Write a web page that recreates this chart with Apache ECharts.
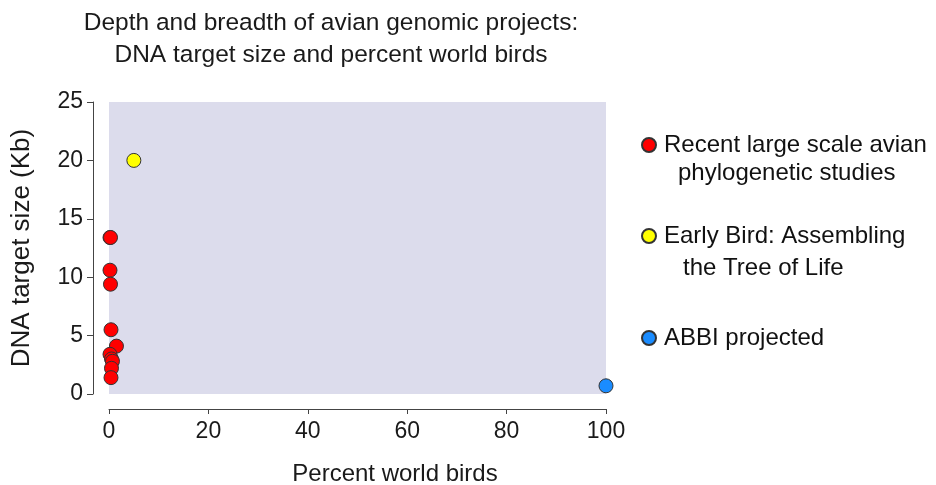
<!DOCTYPE html>
<html>
<head>
<meta charset="utf-8">
<script src="https://cdn.jsdelivr.net/npm/echarts@6/dist/echarts.min.js"></script>
<style>
  html, body { margin: 0; padding: 0; background: #fff; }
  #chart { width: 936px; height: 485px; }
</style>
</head>
<body>
<div id="chart"></div>
<script>
// series names, also shown in the legend
const seriesNames = [
  'Recent large scale avian',
  'Early Bird: Assembling',
  'ABBI projected'
]
// second legend line for each series
const legendSecondLine = ['phylogenetic studies', 'the Tree of Life', '']
const seriesColors = ['#ff0000', '#ffff00', '#1a8cff']

// [percent world birds, DNA target size (Kb)]
const recentStudies = [
  [0.2, 13.4], [0.3, 13.4], [0.2, 10.6], [0.3, 9.4], [0.4, 5.5],
  [1.5, 4.1], [0.2, 3.4], [0.5, 3.0], [0.7, 2.8], [0.5, 2.2], [0.4, 1.4]
]
const earlyBird = [[5, 20]]
const abbiProjected = [[100, 0.7]]

const xTicks = [0, 100, 20] // min, max, interval
const yTicks = [0, 25, 5]

const FONT = 'Liberation Sans, Arial, sans-serif'

const chart = echarts.init(document.getElementById('chart'))

function makeSeries(name, data, color) {
  return {
    name: name,
    type: 'scatter',
    data: data,
    symbol: 'circle',
    symbolSize: 14,
    itemStyle: { color: color, borderColor: '#333', borderWidth: 1, opacity: 1 },
    emphasis: { disabled: true }
  }
}

// one legend block per series so the dot sits on the first line
const legendTops = [131, 222, 324]
const legendSub = [
  { left: 678, top: 159 },
  { left: 683, top: 254 }
]

const option = {
  animation: false,
  textStyle: { fontFamily: FONT },
  title: {
    text: 'Depth and breadth of avian genomic projects:\nDNA target size and percent world birds',
    left: 326,
    top: 2,
    textAlign: 'center',
    textStyle: { fontSize: 24.5, fontWeight: 'normal', color: '#1a1a1a', lineHeight: 32, fontFamily: FONT }
  },
  legend: seriesNames.map((name, i) => ({
    left: 641,
    top: legendTops[i],
    padding: 0,
    itemWidth: 14,
    itemHeight: 14,
    icon: 'circle',
    selectedMode: false,
    data: [name],
    textStyle: { fontSize: 24, color: '#111', lineHeight: 28, fontFamily: FONT, padding: [0, 0, 0, 3] }
  })),
  graphic: legendSub.map((p, i) => ({
    type: 'text',
    left: p.left,
    top: p.top,
    style: {
      text: legendSecondLine[i],
      fontSize: 24,
      lineHeight: 28,
      fill: '#111',
      fontFamily: FONT
    }
  })),
  grid: {
    left: 109,
    right: 330,
    top: 102,
    bottom: 91,
    outerBoundsMode: 'none',
    show: true,
    backgroundColor: '#dcdcec',
    borderWidth: 0
  },
  xAxis: {
    type: 'value',
    min: xTicks[0],
    max: xTicks[1],
    interval: xTicks[2],
    offset: 15,
    name: 'Percent world birds',
    nameLocation: 'middle',
    nameGap: 53,
    nameTextStyle: { fontSize: 24, color: '#1a1a1a', padding: [0, 0, 0, 75] },
    axisLine: { onZero: false, lineStyle: { color: '#444', width: 1 } },
    axisTick: { length: 5, lineStyle: { color: '#444' } },
    axisLabel: { fontSize: 23, color: '#1a1a1a', margin: 11 },
    splitLine: { show: false }
  },
  yAxis: {
    type: 'value',
    min: yTicks[0],
    max: yTicks[1],
    interval: yTicks[2],
    offset: 16,
    name: 'DNA target size (Kb)',
    nameLocation: 'middle',
    nameGap: 58,
    nameTextStyle: { fontSize: 26, color: '#1a1a1a' },
    axisLine: { onZero: false, lineStyle: { color: '#444', width: 1 } },
    axisTick: { length: 6, lineStyle: { color: '#444' } },
    axisLabel: { fontSize: 23, color: '#1a1a1a', margin: 10 },
    splitLine: { show: false }
  },
  series: [
    makeSeries(seriesNames[0], recentStudies, seriesColors[0]),
    makeSeries(seriesNames[1], earlyBird, seriesColors[1]),
    makeSeries(seriesNames[2], abbiProjected, seriesColors[2])
  ]
}

chart.setOption(option)
</script>
</body>
</html>
